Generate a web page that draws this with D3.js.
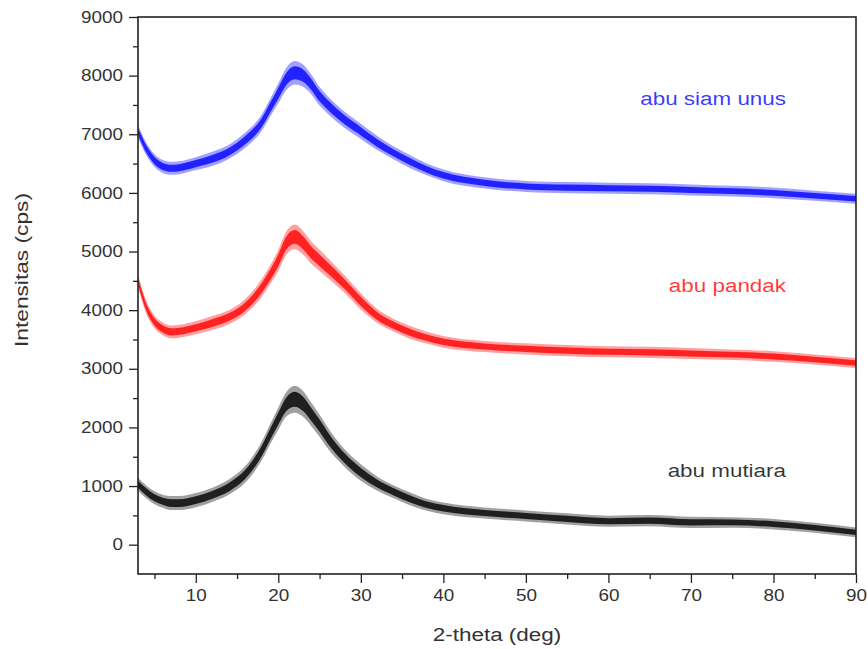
<!DOCTYPE html>
<html>
<head>
<meta charset="utf-8">
<script src="https://cdn.jsdelivr.net/npm/d3@7"></script>
<style>
  html, body { margin: 0; padding: 0; background: #fff; }
  svg { display: block; font-family: Arial, "Liberation Sans", sans-serif; }
</style>
</head>
<body>
<svg id="chart" width="868" height="649"></svg>
<script>
// ---- data ----
const twoTheta = [3,4,5,6,7,8,10,12,14,16,18,19,20,21,22,23,24,25,26,28,30,32,34,36,38,40,45,50,55,60,65,70,75,80,85,90];

const abuSiamUnus = [7050,6750,6550,6450,6420,6430,6500,6580,6700,6900,7200,7450,7700,7950,8050,8000,7850,7650,7500,7250,7050,6850,6680,6530,6400,6300,6170,6110,6090,6080,6070,6050,6030,6000,5950,5900];
const abuSiamUnusNoise = [110,110,110,110,110,110,110,120,120,130,140,150,170,190,200,190,170,160,150,140,130,120,110,110,100,100,95,95,95,95,95,95,90,90,85,85];

const abuPandak = [4500,4050,3800,3680,3630,3640,3700,3780,3880,4060,4380,4600,4850,5150,5250,5150,4980,4850,4720,4450,4150,3900,3740,3620,3530,3460,3380,3340,3310,3290,3280,3260,3240,3210,3160,3100];
const abuPandakNoise = [110,110,110,110,110,110,110,120,120,130,150,160,180,200,210,200,190,180,170,150,140,120,110,110,100,100,95,95,95,95,95,95,90,90,85,85];

const abuMutiara = [1030,900,800,740,710,710,760,850,980,1200,1600,1880,2150,2400,2480,2400,2220,2030,1820,1480,1230,1040,900,780,680,620,540,490,440,400,410,380,380,350,290,210];
const abuMutiaraNoise = [110,110,110,110,120,120,120,120,130,140,160,170,190,210,230,220,200,190,180,150,140,120,110,110,100,100,95,95,95,95,95,95,90,90,85,85];

const seriesNames = ["abu siam unus", "abu pandak", "abu mutiara"];
const seriesColors = ["#1414ff", "#ff1414", "#111111"];

const xTicks = [10,20,30,40,50,60,70,80,90];
const xMinorTicks = [5,15,25,35,45,55,65,75,85];
const yTicks = [0,1000,2000,3000,4000,5000,6000,7000,8000,9000];
const yMinorTicks = [500,1500,2500,3500,4500,5500,6500,7500,8500];

// ---- layout ----
const svg = d3.select("#chart");
const plotLeft = 138, plotRight = 856, plotTop = 17, plotBottom = 574;
const stretch = 1.18; // the reference text is slightly wider than Arial

const x = d3.scaleLinear().domain([3, 90]).range([plotLeft, plotRight]);
const y = d3.scaleLinear().domain([-500, 9000]).range([plotBottom, plotTop]);

const series = [
  {name: seriesNames[0], color: seriesColors[0], vals: abuSiamUnus, noise: abuSiamUnusNoise, ly: 105},
  {name: seriesNames[1], color: seriesColors[1], vals: abuPandak, noise: abuPandakNoise, ly: 292},
  {name: seriesNames[2], color: seriesColors[2], vals: abuMutiara, noise: abuMutiaraNoise, ly: 477}
];

function stretchText(sel, ax) {
  sel.attr("transform", `translate(${ax},0) scale(${stretch},1) translate(${-ax},0)`);
}

const g = svg.append("g");

series.forEach(s => {
  const pts = twoTheta.map((t, i) => ({t, v: s.vals[i], n: s.noise[i]}));
  const outer = d3.area().curve(d3.curveMonotoneX)
    .x(d => x(d.t)).y0(d => y(d.v - d.n)).y1(d => y(d.v + d.n));
  const inner = d3.area().curve(d3.curveMonotoneX)
    .x(d => x(d.t)).y0(d => y(d.v - d.n * 0.55)).y1(d => y(d.v + d.n * 0.55));
  g.append("path").datum(pts).attr("d", outer)
    .attr("fill", s.color).attr("fill-opacity", 0.4);
  g.append("path").datum(pts).attr("d", inner)
    .attr("fill", s.color).attr("fill-opacity", 0.9);
  g.append("text").attr("x", 786).attr("y", s.ly)
    .attr("text-anchor", "end").attr("font-size", 19)
    .attr("fill", s.color).attr("fill-opacity", 0.85).text(s.name)
    .call(stretchText, 786);
});

// ---- axes ----
const axisColor = "#222";
const xAxis = d3.axisBottom(x).tickValues(xTicks).tickSize(9).tickPadding(7).tickFormat(d3.format("d"));
const xMinor = d3.axisBottom(x).tickValues(xMinorTicks).tickSize(5).tickFormat("");
const yAxis = d3.axisLeft(y).tickValues(yTicks).tickSize(9).tickPadding(6).tickFormat(d3.format("d"));
const yMinor = d3.axisLeft(y).tickValues(yMinorTicks).tickSize(5).tickFormat("");

function styleAxis(sel) {
  sel.select(".domain").remove();
  sel.selectAll("line").attr("stroke", axisColor).attr("stroke-width", 1.3);
  sel.selectAll("text").attr("fill", "#333").attr("font-size", 16)
    .attr("font-family", "Arial, 'Liberation Sans', sans-serif");
}

const gx = svg.append("g").attr("transform", `translate(0,${plotBottom})`).call(xAxis).call(styleAxis);
gx.selectAll(".tick text").each(function() {
  d3.select(this).call(stretchText, 0);
});
svg.append("g").attr("transform", `translate(0,${plotBottom})`).call(xMinor).call(styleAxis);
const gy = svg.append("g").attr("transform", `translate(${plotLeft},0)`).call(yAxis).call(styleAxis);
gy.selectAll(".tick text").call(stretchText, -15);
svg.append("g").attr("transform", `translate(${plotLeft},0)`).call(yMinor).call(styleAxis);

// frame
svg.append("rect").attr("x", plotLeft).attr("y", plotTop)
  .attr("width", plotRight - plotLeft).attr("height", plotBottom - plotTop)
  .attr("fill", "none").attr("stroke", axisColor).attr("stroke-width", 1.6);

// titles
svg.append("text").attr("x", 497).attr("y", 641)
  .attr("text-anchor", "middle").attr("font-size", 19).attr("fill", "#333")
  .text("2-theta (deg)")
  .call(stretchText, 497);
svg.append("text").attr("transform", "translate(28,270) rotate(-90)")
  .attr("text-anchor", "middle").attr("font-size", 19).attr("fill", "#333")
  .attr("textLength", 154).attr("lengthAdjust", "spacingAndGlyphs")
  .text("Intensitas (cps)");
</script>
</body>
</html>
